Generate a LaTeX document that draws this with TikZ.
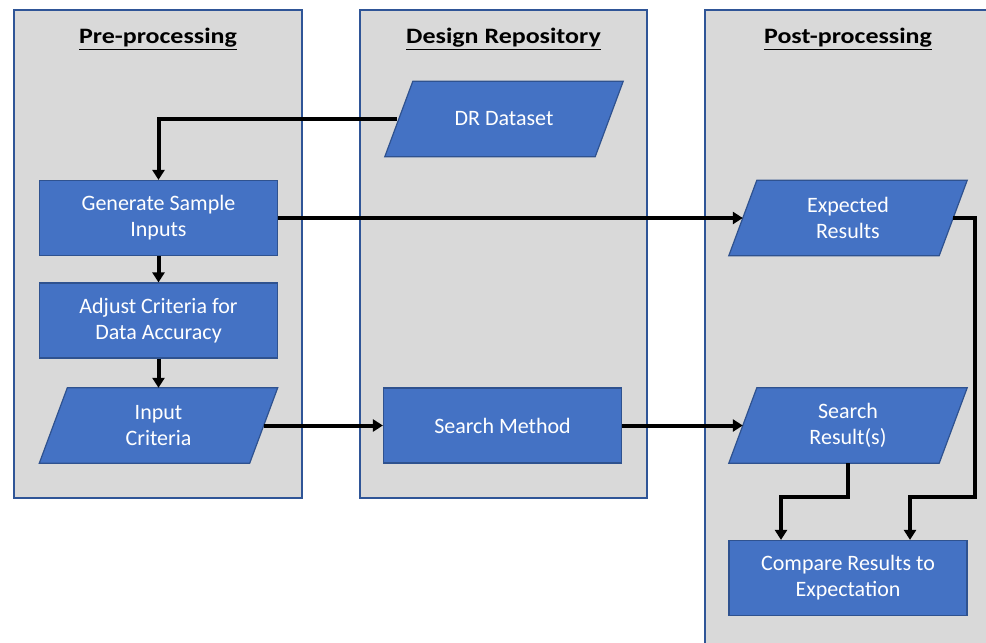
\documentclass[tikz,border=0pt]{standalone}
\usepackage{fontspec}
\setmainfont{Carlito}
\usetikzlibrary{arrows.meta}

\definecolor{panelfill}{HTML}{D9D9D9}
\definecolor{panelline}{HTML}{2F5597}
\definecolor{boxfill}{HTML}{4472C4}
\definecolor{boxline}{HTML}{2F528F}

\pgfdeclarelayer{back}
\pgfdeclarelayer{shapes}
\pgfsetlayers{back,shapes,main}

\newcommand\lanetitle[1]{\scalebox{1.18}[1]{\underline{#1}}}

\tikzset{
  panel/.style={fill=panelfill, draw=panelline, line width=1.5pt},
  header/.style={font=\fontsize{22}{26}\selectfont\bfseries, text=black, inner sep=0pt},
  boxtext/.style={rectangle, text=white, align=center, inner sep=0pt,
    font=\fontsize{22}{26}\selectfont, minimum width=238pt, minimum height=75pt},
  procbox/.style={boxtext, fill=boxfill, draw=boxline, line width=1.2pt},
  datashape/.style={fill=boxfill, draw=boxline, line width=1.2pt},
  flow/.style={line width=4pt, -{Triangle[length=10pt,width=12pt]}},
}

% parallelogram behind a boxtext node, slanted by 28pt
\newcommand\dataoutline[1]{%
  \begin{pgfonlayer}{shapes}
    \path[datashape] ([xshift=28pt]#1.north west) -- (#1.north east)
      -- ([xshift=-28pt]#1.south east) -- (#1.south west) -- cycle;
  \end{pgfonlayer}}

\begin{document}
\begin{tikzpicture}[x=1pt, y=-1pt]
  \useasboundingbox (0,0) rectangle (986,643);
  \clip (0,0) rectangle (986,643);

  % swimlane panels
  \begin{pgfonlayer}{back}
    \fill[white] (0,0) rectangle (986,643);
    \path[panel] (14,10) rectangle (302,498);
    \path[panel] (360,10) rectangle (647,498);
    \path[panel] (705,10) rectangle (993,660);
  \end{pgfonlayer}

  \node[header] (hpre)  at (158,39)   {\lanetitle{Pre-processing}};
  \node[header] (hdr)   at (503.5,39) {\lanetitle{Design Repository}};
  \node[header] (hpost) at (848,39)   {\lanetitle{Post-processing}};

  % process steps
  \node[procbox] (gen) at (158.5,218) {Generate Sample\\Inputs};
  \node[procbox] (adj) at (158.5,320.5) {Adjust Criteria for\\Data Accuracy};
  \node[procbox] (sm)  at (502.5,425.5) {Search Method};
  \node[procbox] (cmp) at (848,578) {Compare Results to\\Expectation};

  % data items
  \node[boxtext] (dr)  at (504,119)   {DR Dataset};
  \node[boxtext] (inp) at (158.5,425.5) {Input\\Criteria};
  \node[boxtext] (exp) at (848,218)   {Expected\\Results};
  \node[boxtext] (sr)  at (848,425.5) {Search\\Result(s)};
  \dataoutline{dr}
  \dataoutline{inp}
  \dataoutline{exp}
  \dataoutline{sr}

  % connectors
  \coordinate (expturn) at (975,497);
  \draw[flow] ([xshift=12pt]dr.west) -| (gen.north);
  \draw[flow] (gen.south) -- (adj.north);
  \draw[flow] (adj.south) -- (inp.north);
  \draw[flow] (gen.east) -- ([xshift=14pt]exp.west);
  \draw[flow] ([xshift=-14pt]inp.east) -- (sm.west);
  \draw[flow] (sm.east) -- ([xshift=14pt]sr.west);
  \draw[flow] ([xshift=-14pt]exp.east) -| (expturn) -| ([xshift=62pt]cmp.north);
  \draw[flow] (sr.south) -- ++(0,34) -| ([xshift=-67pt]cmp.north);
\end{tikzpicture}
\end{document}
